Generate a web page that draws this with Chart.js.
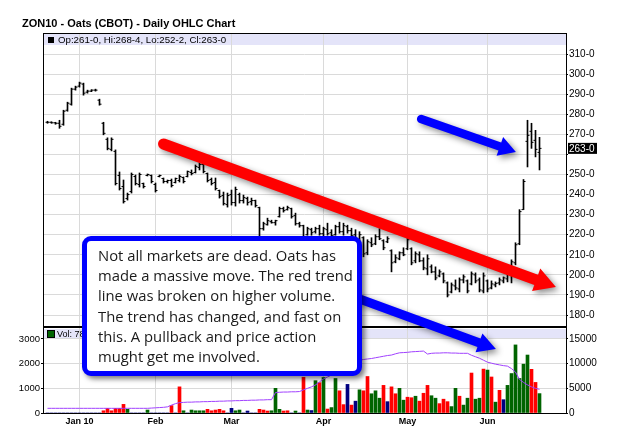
<!DOCTYPE html>
<html>
<head>
<meta charset="utf-8">
<script src="https://cdn.jsdelivr.net/npm/chart.js@4.4.1/dist/chart.umd.min.js"></script>
<style>
  html, body { margin: 0; padding: 0; background: #fff; }
  #wrap { position: relative; width: 625px; height: 434px; overflow: hidden; }
  #chartCanvas { position: absolute; left: 0; top: 0; }
  #title { position: absolute; left: 22px; top: 17px; font: bold 11px "Liberation Sans", Arial, sans-serif; line-height: 13px; color: #000; white-space: nowrap; }
  #note { position: absolute; left: 82px; top: 236px; width: 280px; height: 140px; box-sizing: border-box;
          border: 5px solid #0000ff; border-radius: 9px; background: #fff; box-shadow: 3px 3px 5px rgba(0,0,0,0.5);
          padding: 4px 2px 0 11px; font-family: "Open Sans", sans-serif; font-size: 14.8px; line-height: 20.2px;
          color: #1a1a1a; white-space: nowrap; }
</style>
</head>
<body>
<div id="wrap">
  <canvas id="chartCanvas" width="625" height="434"></canvas>
  <div id="title">ZON10 - Oats (CBOT) - Daily OHLC Chart</div>
  <div id="note">
    <div>Not all markets are dead. Oats has</div>
    <div>made a massive move. The red trend</div>
    <div>line was broken on higher volume.</div>
    <div>The trend has changed, and fast on</div>
    <div>this. A pullback and price action</div>
    <div>mught get me involved.</div>
  </div>
</div>
<script>
// trading day index: 0 = first session of Jan 2010, first bar = -8 (Dec 21 2009)
const firstDay = -8;

const hi = [
  276.5, 276.25, 276, 277, 282, 286, 293, 294, 296, 295.5,
  292, 292.25, 292.5, 287.5, 276, 268.25, 268.25, 262.25, 251.25, 247.25,
  240.75, 250.75, 249.75, 250.75, 245.75, 250.25, 249.75, 245.75, 249.75, 248.25,
  247.25, 247.75, 248.25, 249.75, 248.75, 251.75, 252.25, 254.75, 255.75, 255.75,
  250.75, 248.25, 248.25, 242.25, 241.25, 240.75, 242.25, 243.75, 240.75, 239.75,
  238.75, 238.25, 237.25, 233.75, 226.25, 228.25, 227.25, 227.25, 233.75, 233.75,
  234.25, 233.25, 230.75, 226.25, 224.75, 223.75, 223.25, 223.75, 224.75, 223.75,
  225.75, 222.5, 224.75, 226.25, 225.75, 224.75, 223.25, 222.5, 221.5, 219,
  217.5, 218.5, 220, 223, 217.5, 219, 212.5, 210, 211.5, 213.5,
  219, 213.5, 211.5, 211.5, 208.5, 210, 205, 204, 202.5, 201,
  196.5, 196, 197.5, 198.5, 200, 197.5, 201.5, 201, 198.5, 201,
  197.5, 197, 196.5, 198.5, 199, 202.5, 207.5, 216, 232.5, 247.5,
  277, 275.5, 272, 268.5
];
const lo = [
  275.5, 275.5, 275, 273, 274.5, 281.5, 284.5, 292, 293.5, 289.5,
  290.5, 291.25, 291.5, 284.5, 269.75, 262.25, 261.75, 244.75, 242.25, 235.75,
  237.25, 240.75, 244.75, 243.75, 243.25, 249.25, 245.75, 241.25, 248.75, 245.75,
  245.75, 243.75, 245.75, 246.25, 245.75, 248.75, 249.75, 250.75, 252.25, 250.75,
  246.25, 244.75, 242.25, 238.25, 234.75, 233.75, 234.75, 234.25, 235.75, 235.75,
  234.75, 234.75, 233.75, 218.75, 222.25, 224.75, 225.75, 224.75, 228.75, 231.25,
  232.25, 228.25, 224.75, 223.75, 217.25, 219.75, 219.75, 220.75, 219.75, 219.5,
  219.75, 218.75, 219.75, 220.75, 219.75, 220.75, 218.75, 216.5, 215, 209,
  210, 214, 215, 217.5, 212.5, 216, 201.5, 206, 207.5, 209.5,
  212.5, 205, 206, 206.5, 202.5, 200, 201, 197.5, 199, 196,
  189, 191, 192.5, 191.5, 196, 191, 195, 196, 191.5, 191,
  191.5, 193, 194, 195, 196, 196.5, 196, 205, 215, 232.5,
  253.75, 263, 258.75, 252.25
];
const op = [
  276, 276, 275.75, 275.5, 275, 282, 285, 292.5, 294, 295,
  291, 291.5, 292, 287, 275.5, 267.5, 262.5, 261.5, 249.5, 244,
  238, 241.5, 249, 245, 245.5, 249.5, 249.5, 245, 249, 248,
  246.5, 247, 246, 247, 248.5, 249, 251, 251, 253.5, 255,
  250.5, 247.5, 246, 242, 239.5, 235, 240, 236, 240, 237,
  238, 236.5, 237, 233.5, 223, 225, 226.5, 226, 229, 233,
  232.5, 233, 229.5, 225.5, 224.5, 220, 222.5, 221.5, 223, 220.5,
  222.5, 221, 220, 224, 221.5, 224, 222, 220, 217.5, 218.5,
  211, 216, 215.5, 219, 217, 216.5, 212, 206.5, 208, 211,
  213, 213, 207, 210, 207, 203, 204, 201.5, 199.5, 200.5,
  196, 191.5, 194.5, 193, 197.5, 197, 195.5, 200, 197.5, 192,
  197, 193.5, 195, 196, 197, 198, 200.5, 206, 215.5, 232.5,
  266.5, 271.5, 267, 261
];
const cl = [
  276, 275.75, 275.5, 274, 281.5, 285.5, 292.5, 293.5, 295.5, 290.5,
  291.5, 292, 292, 285, 270.5, 263, 267.5, 245.5, 243, 236.5,
  240, 250, 245.5, 250, 244, 250, 246.5, 242, 249.5, 246.5,
  247, 244.5, 248, 249, 246.5, 251.5, 250.5, 254, 255, 251.5,
  247, 245.5, 243, 239, 235.5, 239.5, 236, 242.5, 237, 238.5,
  236, 237, 234.5, 223, 225.5, 227, 226, 227, 233, 232,
  233.5, 229, 225.5, 224.5, 218.5, 223, 221, 223, 220.5, 223,
  220.5, 219.5, 224, 221.5, 224.5, 222, 219.5, 217.5, 220, 210.5,
  216.5, 215, 219, 218, 213.5, 218, 206, 208.5, 211, 210,
  217.5, 206, 210.5, 207, 203.5, 208, 201.5, 198.5, 201.5, 197,
  190, 195, 193.5, 197.5, 199, 192, 200.5, 197, 192.5, 199.5,
  193, 195.5, 195.75, 197.5, 198.5, 201.5, 206.5, 215, 231.5, 246.5,
  269.5, 266, 262.5, 263
];
// volume (left axis) and its direction: 1 up, -1 down, 0 unchanged
const vol = [
  0, 0, 0, 0, 0, 0, 0, 0, 0, 0,
  0, 0, 0, 0, 90, 190, 90, 190, 190, 350,
  150, 0, 0, 0, 0, 120, 0, 0, 0, 0,
  0, 300, 0, 1060, 90, 0, 120, 90, 90, 90,
  150, 90, 120, 150, 90, 0, 190, 90, 120, 0,
  80, 0, 0, 150, 120, 80, 90, 1000, 150, 80,
  90, 0, 80, 0, 1450, 120, 100, 1310, 1230, 1440,
  160, 220, 1400, 900, 340, 1160, 320, 480, 940, 900,
  1480, 780, 900, 600, 1120, 460, 1060, 780, 1000, 520,
  640, 620, 680, 480, 800, 1120, 700, 600, 380, 560,
  460, 260, 1000, 680, 320, 600, 1620, 560, 600, 1780,
  1740, 1460, 440, 920, 540, 1120, 1600, 2760, 1400, 1980,
  2350, 1770, 1240, 786
];
const volDir = [
  0, 0, 0, 0, 0, 0, 0, 0, 0, 0,
  0, 0, 0, 0, -1, -1, -1, -1, -1, -1,
  1, 0, 0, 0, 0, 1, 0, 0, 0, 0,
  0, -1, 0, -1, 1, 0, 1, 1, 1, 1,
  -1, -1, -1, -1, -1, 0, 0, 1, 1, 0,
  0, 0, 0, -1, -1, -1, 1, 1, 1, -1,
  -1, 0, 1, 0, -1, 1, 0, 1, -1, 1,
  -1, 1, 1, -1, -1, 0, -1, 0, 1, -1,
  -1, 1, 1, 1, -1, 0, -1, -1, 1, 1,
  -1, -1, 1, -1, -1, -1, 1, 1, -1, -1,
  -1, 1, 1, -1, 1, 1, -1, 1, 1, -1,
  1, -1, 1, -1, 0, 1, 1, 1, 1, 1,
  1, -1, -1, 1
];
// open interest (right axis of the volume panel)
const oi = [
  950, 950, 950, 950, 950, 950, 950, 950, 950, 950,
  950, 950, 950, 950, 950, 950, 950, 950, 950, 950,
  950, 950, 950, 950, 950, 950, 1000, 1050, 1100, 1150,
  1250, 1600, 1900, 2100, 2150, 2200, 2200, 2250, 2250, 2300,
  2300, 2350, 2350, 2400, 2400, 2450, 2450, 2500, 2500, 2550,
  2550, 2600, 2600, 2650, 2650, 2700, 2700, 4150, 4200, 4250,
  4250, 4300, 4300, 4350, 4700, 5000, 5300, 5700, 6300, 6900,
  7300, 7700, 8300, 8700, 9100, 9500, 9900, 10300, 10700, 10850,
  10950, 11050, 11200, 11350, 11500, 11650, 11750, 12000, 12200, 12250,
  12300, 12400, 12450, 12500, 12550, 11950, 12100, 12150, 12150, 12200,
  12200, 12150, 12150, 12100, 12100, 12100, 11700, 11400, 11100, 10700,
  10300, 10100, 9900, 9750, 9600, 9500, 9000, 8300, 6800, 6200,
  5700, 5300, 5000, 4800
];

const monthIdx = [0, 19, 38, 61, 82, 102];
const monthLbl = ['Jan 10', 'Feb', 'Mar', 'Apr', 'May', 'Jun'];
const priceTicks = [180, 190, 200, 210, 220, 230, 240, 250, 260, 270, 280, 290, 300, 310];
const volTicks = [0, 5000, 10000, 15000];
const volLeftTicks = [0, 1000, 2000, 3000];

// annotation arrows, in data units
const arrows = [
  { from: [21.0, 265.2, 'y'], to: [119.1, 193.96, 'y'], color: '#ff0000', half: 5.5, headHalf: 12, headLen: 21 },
  { from: [85.4, 277.6, 'y'], to: [109.1, 261.2, 'y'], color: '#0000ff', half: 4.2, headHalf: 10, headLen: 17 },
  { from: [64.6, 192.0, 'y'], to: [104.1, 12973, 'yv'], color: '#0000ff', half: 4.5, headHalf: 10, headLen: 18 }
];

const dayIdx = hi.map((_, k) => firstDay + k);
const last = hi.length - 1;
const fmt = v => Math.floor(v) + '-' + Math.round((v - Math.floor(v)) * 8);
const dirColor = d => d > 0 ? '#006400' : (d < 0 ? '#ff0000' : '#000080');
const AXIS_FONT = '"Liberation Sans", Arial, sans-serif';

function drawArrow(ctx, x0, y0, x1, y1, half, headHalf, headLen) {
  const dx = x1 - x0, dy = y1 - y0, len = Math.hypot(dx, dy);
  const ux = dx / len, uy = dy / len, nx = -uy, ny = ux;
  const bx = x1 - ux * headLen, by = y1 - uy * headLen;
  const a = Math.atan2(uy, ux);
  ctx.beginPath();
  ctx.moveTo(x0 + nx * half, y0 + ny * half);
  ctx.lineTo(bx + nx * half, by + ny * half);
  ctx.lineTo(bx + nx * headHalf, by + ny * headHalf);
  ctx.lineTo(x1, y1);
  ctx.lineTo(bx - nx * headHalf, by - ny * headHalf);
  ctx.lineTo(bx - nx * half, by - ny * half);
  ctx.lineTo(x0 - nx * half, y0 - ny * half);
  ctx.arc(x0, y0, half, a - Math.PI / 2, a + Math.PI / 2, true);
  ctx.closePath();
  ctx.fill();
}

const panelDeco = {
  id: 'panelDeco',
  beforeDraw(chart) {
    const { ctx, chartArea: a, scales } = chart;
    ctx.save();
    ctx.fillStyle = '#e4e4f9';
    ctx.fillRect(a.left, a.top + 1, a.right - a.left, 11);
    ctx.fillRect(a.left, scales.yv.top + 2, a.right - a.left, 10);
    ctx.restore();
  },
  afterDatasetsDraw(chart) {
    const { ctx, chartArea: a, scales } = chart;
    const sep = scales.yv.top;
    ctx.save();
    ctx.fillStyle = '#000';
    ctx.fillRect(a.left, a.top, a.right - a.left, 1);
    ctx.fillRect(a.left, sep - 1, a.right - a.left + 1, 2);
    // price legend
    ctx.fillRect(48, a.top + 4, 6, 6);
    ctx.font = '9.7px ' + AXIS_FONT;
    ctx.textBaseline = 'middle';
    ctx.fillText('Op:' + fmt(op[last]) + ', Hi:' + fmt(hi[last]) + ', Lo:' + fmt(lo[last]) + ', Cl:' + fmt(cl[last]), 58, a.top + 7);
    // volume legend
    ctx.fillStyle = '#006400';
    ctx.fillRect(48, sep + 4, 6, 6);
    ctx.strokeStyle = '#000';
    ctx.lineWidth = 1;
    ctx.strokeRect(47.5, sep + 3.5, 7, 7);
    ctx.fillStyle = '#000';
    ctx.font = '9px ' + AXIS_FONT;
    ctx.fillText('Vol: ' + vol[last], 57, sep + 7.5);
    ctx.restore();
  },
  afterDraw(chart) {
    const { ctx, scales } = chart;
    ctx.save();
    // last price marker on the axis
    const yc = scales.y.getPixelForValue(cl[last]);
    ctx.fillStyle = '#000';
    ctx.fillRect(568, yc - 5.5, 29, 11);
    ctx.fillStyle = '#fff';
    ctx.font = '10px ' + AXIS_FONT;
    ctx.textBaseline = 'middle';
    ctx.fillText(fmt(cl[last]), 569, yc + 0.5);
    // arrows
    ctx.shadowColor = 'rgba(0,0,0,0.45)';
    ctx.shadowBlur = 6;
    ctx.shadowOffsetX = 3;
    ctx.shadowOffsetY = 3;
    for (const ar of arrows) {
      ctx.fillStyle = ar.color;
      drawArrow(ctx,
        scales.x.getPixelForValue(ar.from[0]), scales[ar.from[2]].getPixelForValue(ar.from[1]),
        scales.x.getPixelForValue(ar.to[0]), scales[ar.to[2]].getPixelForValue(ar.to[1]),
        ar.half, ar.headHalf, ar.headLen);
    }
    ctx.restore();
  }
};

const ctx = document.getElementById('chartCanvas').getContext('2d');
new Chart(ctx, {
  type: 'bar',
  data: {
    datasets: [
      {
        type: 'bar', label: 'range', yAxisID: 'y',
        data: dayIdx.map((d, k) => ({ x: d, y: [lo[k], hi[k]] })),
        backgroundColor: '#000', borderWidth: 0, barThickness: 1, grouped: false
      },
      {
        type: 'line', label: 'open', yAxisID: 'y', showLine: false,
        data: dayIdx.map((d, k) => ({ x: d, y: op[k] })),
        pointStyle: 'dash', pointRotation: 180, pointRadius: 2,
        pointBorderColor: '#000', pointBorderWidth: 1
      },
      {
        type: 'line', label: 'close', yAxisID: 'y', showLine: false,
        data: dayIdx.map((d, k) => ({ x: d, y: cl[k] })),
        pointStyle: 'dash', pointRotation: 0, pointRadius: 2,
        pointBorderColor: '#000', pointBorderWidth: 1
      },
      {
        type: 'line', label: 'OI', yAxisID: 'yv',
        data: dayIdx.map((d, k) => ({ x: d, y: oi[k] })),
        borderColor: '#a040ff', borderWidth: 1, pointRadius: 0, tension: 0, fill: false
      },
      {
        type: 'bar', label: 'volume', yAxisID: 'yl',
        data: dayIdx.map((d, k) => ({ x: d, y: vol[k] })),
        backgroundColor: volDir.map(dirColor), borderWidth: 0, barThickness: 3, grouped: false
      }
    ]
  },
  options: {
    responsive: false,
    animation: false,
    events: [],
    layout: { padding: { top: 33, left: 0, right: 0, bottom: 0 } },
    plugins: { legend: { display: false }, tooltip: { enabled: false } },
    scales: {
      x: {
        type: 'linear', position: 'bottom', min: -9.125, max: 121.625, offset: false,
        afterFit: s => { s.height = 21; },
        afterBuildTicks: s => { s.ticks = monthIdx.map(v => ({ value: v })); },
        ticks: {
          autoSkip: false, maxRotation: 0, padding: 3, color: '#000',
          font: { family: AXIS_FONT, size: 9, weight: 'bold' },
          callback: v => monthLbl[monthIdx.indexOf(v)]
        },
        grid: { color: '#dadada', drawTicks: false, offset: false },
        border: { color: '#000' }
      },
      y: {
        type: 'linear', position: 'right', stack: 'r', stackWeight: 294,
        min: 174.04, max: 320.46,
        afterFit: s => { s.width = 59; },
        afterBuildTicks: s => { s.ticks = priceTicks.map(v => ({ value: v })); },
        ticks: {
          autoSkip: false, padding: 1, color: '#000',
          font: { family: AXIS_FONT, size: 10 },
          callback: v => v === 260 ? '' : v + '-0'
        },
        grid: { color: '#dadada', tickLength: 2, tickColor: '#000' },
        border: { color: '#000' }
      },
      yv: {
        type: 'linear', position: 'right', stack: 'r', stackWeight: 86,
        min: 0, max: 17432,
        afterFit: s => { s.width = 59; },
        afterBuildTicks: s => { s.ticks = volTicks.map(v => ({ value: v })); },
        ticks: {
          autoSkip: false, padding: 1, color: '#000',
          font: { family: AXIS_FONT, size: 10 },
          callback: v => String(v)
        },
        grid: { color: '#dadada', tickLength: 2, tickColor: '#000' },
        border: { color: '#000' }
      },
      yl: {
        type: 'linear', position: 'left', min: 0, max: 15405,
        afterFit: s => { s.width = 43; },
        afterBuildTicks: s => { s.ticks = volLeftTicks.map(v => ({ value: v })); },
        ticks: {
          autoSkip: false, padding: 1, color: '#000',
          font: { family: AXIS_FONT, size: 9.5 },
          callback: v => String(v)
        },
        grid: { drawOnChartArea: false, tickLength: 2, tickColor: '#000' },
        border: { color: '#000' }
      }
    }
  },
  plugins: [panelDeco]
});
</script>
</body>
</html>
